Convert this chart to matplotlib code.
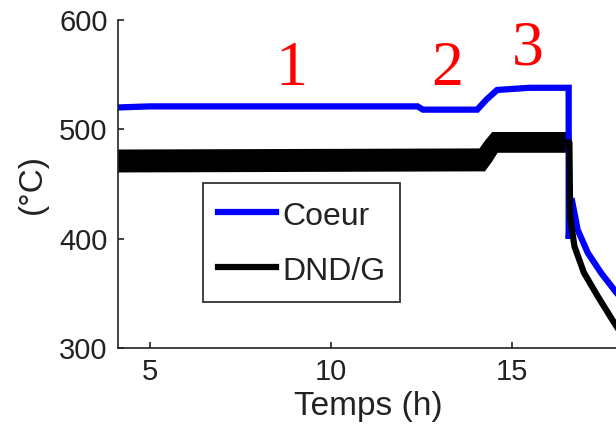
import matplotlib.pyplot as plt

# Coeur temperature (deg C) vs time (h)
coeur_t = [4.1, 5.0, 12.4, 12.55, 14.05, 14.3, 14.6, 15.5, 16.58, 16.58, 16.66, 16.83, 17.11, 17.47, 17.89, 18.0]
coeur = [520, 521, 521, 518, 518, 527, 536, 538, 538, 400, 437, 408, 387, 369, 351, 347]

# DND/G trace: centre line plus the noise envelope on the plateaus
dnd_t = [4.1, 14.15, 14.55, 16.6, 16.62, 16.74, 17.0, 17.39, 17.84, 18.0]
dnd = [471, 472, 488, 488, 420, 393, 369, 347, 323, 315]
env_t = [4.1, 14.1, 14.25, 14.45, 14.6, 16.64]
env_low = [461, 462, 462, 471, 479, 479]
env_high = [482, 483, 490, 498, 498, 498]

# Phase markers
phase_labels = ['1', '2', '3']
phase_x = [8.91, 13.23, 15.44]
phase_y = [540.6, 540.6, 559]

plt.rcParams['font.family'] = 'Liberation Sans'
ink = '#222222'
fig = plt.figure(figsize=(6.16, 4.26), dpi=100)
ax = fig.add_axes([117.5 / 616, 78 / 426, 502.5 / 616, 328 / 426])

ax.plot(coeur_t, coeur, color='#0000ff', lw=4.5, label='Coeur', solid_joinstyle='miter')
ax.fill_between(env_t, env_low, env_high, color='black', lw=0)
ax.plot(dnd_t, dnd, color='black', lw=4.5, label='DND/G')

for lab, x, y in zip(phase_labels, phase_x, phase_y):
    ax.text(x, y, lab, color='red', fontsize=46, family='Liberation Serif',
            ha='center', va='baseline')

ax.set_xlim(4.1, 18.0)
ax.set_ylim(300, 600)
ax.set_xticks([5, 10, 15])
ax.set_yticks([300, 400, 500, 600])
ax.spines['top'].set_visible(False)
ax.spines['right'].set_visible(False)
for s in ('left', 'bottom'):
    ax.spines[s].set_linewidth(1.2)
    ax.spines[s].set_color(ink)
ax.tick_params(direction='in', length=4, width=1.2, labelsize=21, pad=7,
               colors=ink)
for lbl in ax.get_xticklabels() + ax.get_yticklabels():
    lbl.set_family(['Liberation Sans Narrow', 'Liberation Sans'])

ax.set_xlabel('Temps (h)', fontsize=24, labelpad=4, color=ink)
ax.set_ylabel('(°C)', fontsize=24, labelpad=8, color=ink)

leg = ax.legend(loc='upper left', bbox_to_anchor=(203 / 616, 1 - 183 / 426),
                bbox_transform=fig.transFigure, fontsize=23, frameon=True,
                fancybox=False, handlelength=1.8, handleheight=1.2,
                handletextpad=0.2, labelspacing=0.655, borderpad=0.47,
                borderaxespad=0)
leg.get_frame().set_edgecolor('black')
leg.get_frame().set_linewidth(1.3)
for txt in leg.get_texts():
    txt.set_color(ink)

fig.savefig('out.png', dpi=100)
